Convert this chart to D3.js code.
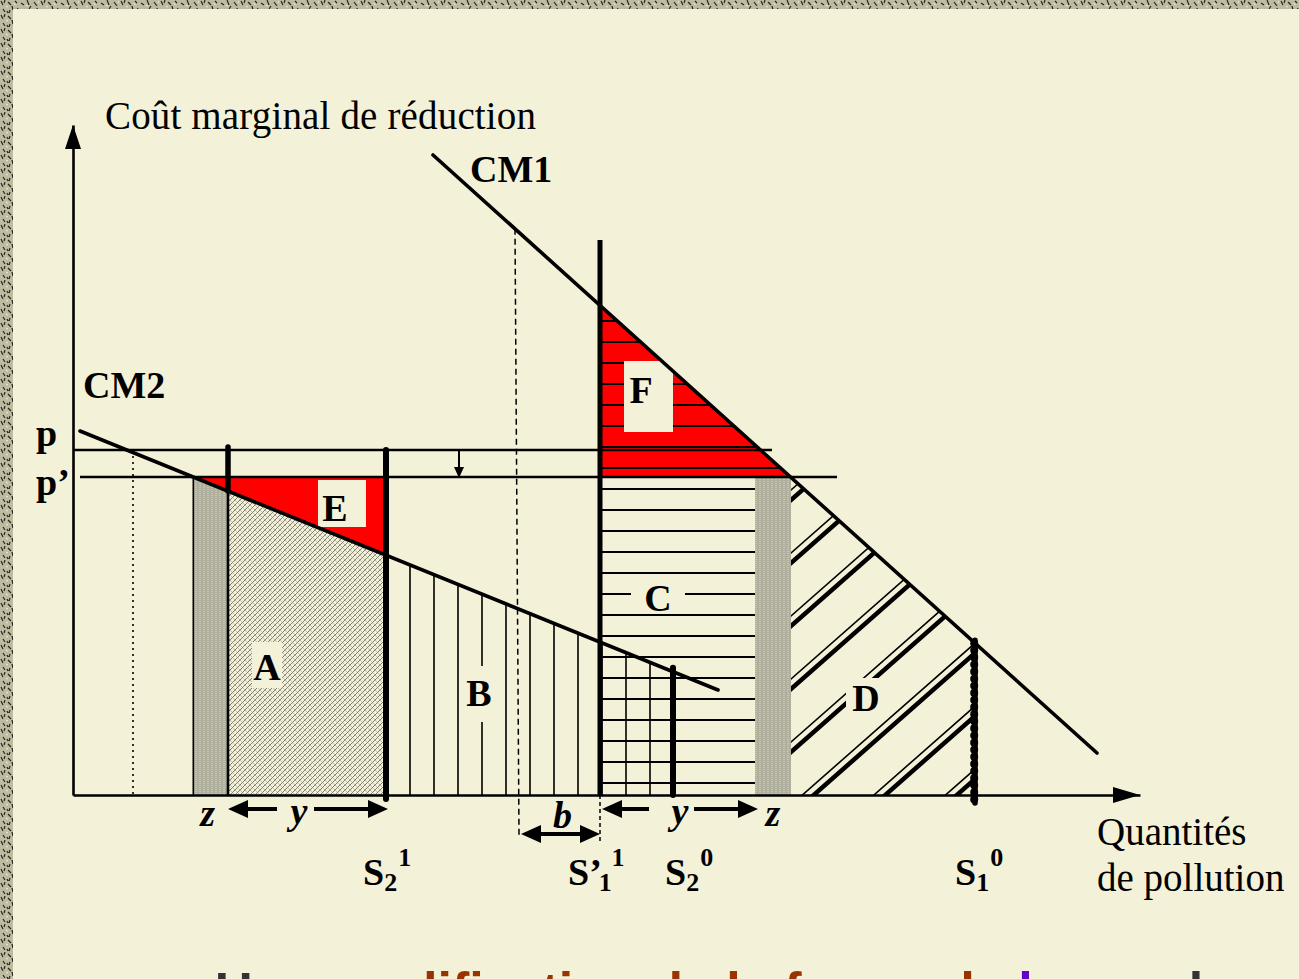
<!DOCTYPE html>
<html>
<head>
<meta charset="utf-8">
<script src="https://cdn.jsdelivr.net/npm/d3@7"></script>
<style>
  html, body { margin: 0; padding: 0; background: #f4f1d9; overflow: hidden; }
  svg { display: block; }
</style>
</head>
<body>
<svg id="chart" width="1299" height="979"></svg>
<script>
// ---------- values (pollution quantity / marginal abatement cost units) ----------
const quantityDomain = [0, 106.7];
const costDomain = [0, 67];

// marginal abatement cost curves, given by their two end points [quantity, cost]
const cm1Ends = [[36.0, 64.0], [102.4, 4.2]];
const cm2Ends = [[0.7, 36.4], [64.5, 10.5]];
const curveNames = ["CM1", "CM2"];

// permit price before and after the change
const priceNames = ["p", "p’"];
const priceValues = [34.5, 31.8];

// emission levels: S2¹, S’1¹, S2⁰, S1⁰
const standardNames = [["S", "2", "1"], ["S’", "1", "1"], ["S", "2", "0"], ["S", "1", "0"]];
const standardValues = [31.3, 52.7, 60.0, 90.2];

// end of the y span for firm 2, the z band of firm 1, and the shifted level b
const firm2SpanStart = 15.5;
const firm1Band = [68.2, 71.8];
const shiftedLevel = [44.2, 44.6];
const priceLineEnds = [[0, 69.9], [0.7, 76.4]];
const dottedLevel = 6.0;
const firm1Top = 55.5;

const regionNames = ["A", "B", "C", "D", "E", "F"];
const axisTitles = ["Coût marginal de réduction", "Quantités", "de pollution"];
const spanNames = ["z", "y", "b"];
const titleParts = [["Une ", "#333333"], ["modification de la forme de ", "#993300"], ["la ", "#6600cc"], ["courbe", "#333333"]];

// ---------- scales ----------
const x = d3.scaleLinear().domain(quantityDomain).range([73, 1140]);
const y = d3.scaleLinear().domain(costDomain).range([795, 125]);
const line = d3.line().x(d => x(d[0])).y(d => y(d[1]));

function through(e) {
  const k = (e[1][1] - e[0][1]) / (e[1][0] - e[0][0]);
  return { at: q => e[0][1] + k * (q - e[0][0]), qAt: c => e[0][0] + (c - e[0][1]) / k };
}
const CM1 = through(cm1Ends), CM2 = through(cm2Ends);
const [pHigh, pLow] = priceValues;
const [S21, Sp11, S20, S10] = standardValues;
const qE0 = CM2.qAt(pLow);
const qF1 = CM1.qAt(pLow);

const CREAM = "#f4f1d9", INK = "#000";
const SERIF = "'Liberation Serif', 'Times New Roman', serif";

const svg = d3.select("#chart");
const defs = svg.append("defs");

// grainy frame texture
const grain = defs.append("pattern").attr("id", "grain").attr("patternUnits", "userSpaceOnUse")
  .attr("width", 40).attr("height", 14);
grain.append("rect").attr("width", 40).attr("height", 14).attr("fill", "#bfbba1");
grain.append("path")
  .attr("d", "M1 1l2 4M5 0l-1 3M8 2l3 3M12 6l1 4M15 1l2 2M18 8l-2 4M21 3l3 2M24 9l1 4M27 0l2 5M31 6l-2 3M34 2l3 4M37 8l1 4M3 9l2 3M10 10l-1 3M19 12l2 2M29 10l2 3M7 11l1 2")
  .attr("stroke", "#24241d").attr("stroke-width", 1.2).attr("fill", "none");
grain.append("path").attr("d", "M6 6l2 1M14 3l1 2M26 5l2 1M33 11l1 2M39 1l-1 2")
  .attr("stroke", "#f0eedc").attr("stroke-width", 1);

// light lattice for area A
const lattice = defs.append("pattern").attr("id", "lattice").attr("patternUnits", "userSpaceOnUse")
  .attr("width", 5).attr("height", 5);
lattice.append("rect").attr("width", 5).attr("height", 5).attr("fill", CREAM);
lattice.append("path").attr("d", "M0 5L5 0M-1 1L1 -1M4 6L6 4").attr("stroke", "#55554b").attr("stroke-width", 0.75);
lattice.append("path").attr("d", "M0 0L5 5").attr("stroke", "#8c8b7e").attr("stroke-width", 0.5);

// dense weave for the z bands
const weave = defs.append("pattern").attr("id", "weave").attr("patternUnits", "userSpaceOnUse")
  .attr("width", 4).attr("height", 4);
weave.append("rect").attr("width", 4).attr("height", 4).attr("fill", "#e2dfca");
weave.append("path").attr("d", "M0 1.5L1 0.5L2 1.5L3 0.5L4 1.5M0 3.5L1 2.5L2 3.5L3 2.5L4 3.5")
  .attr("stroke", "#44443b").attr("stroke-width", 0.7).attr("fill", "none");

// ---------- background ----------
svg.append("rect").attr("width", 1299).attr("height", 979).attr("fill", CREAM);
svg.append("rect").attr("x", 0).attr("y", 0).attr("width", 1299).attr("height", 9).attr("fill", "url(#grain)");
svg.append("rect").attr("x", 0).attr("y", 0).attr("width", 13).attr("height", 979).attr("fill", "url(#grain)");

// ---------- filled areas ----------
const areas = svg.append("g");
// A : firm 2 extra abatement under CM2
areas.append("path").attr("fill", "url(#lattice)")
  .attr("d", line([[firm2SpanStart, CM2.at(firm2SpanStart)], [S21, CM2.at(S21)], [S21, 0], [firm2SpanStart, 0]]) + "Z");
// z band of firm 2
areas.append("path").attr("fill", "url(#weave)")
  .attr("d", line([[qE0, pLow], [firm2SpanStart, CM2.at(firm2SpanStart)], [firm2SpanStart, 0], [qE0, 0]]) + "Z");
// E : red triangle between p’ and CM2
areas.append("path").attr("fill", "#ff0000")
  .attr("d", line([[qE0, pLow], [S21, pLow], [S21, CM2.at(S21)]]) + "Z");
// F : red triangle between CM1 and p’
areas.append("path").attr("fill", "#ff0000")
  .attr("d", line([[Sp11, CM1.at(Sp11)], [Sp11, pLow], [qF1, pLow]]) + "Z");
// z band of firm 1
areas.append("path").attr("fill", "url(#weave)")
  .attr("d", line([[firm1Band[0], pLow], [firm1Band[1], pLow], [firm1Band[1], 0], [firm1Band[0], 0]]) + "Z");

// B : vertical hatching under CM2 between S2¹ and S2⁰
const hatch = svg.append("g").attr("stroke", INK).attr("fill", "none");
d3.range(S21 + 2.4, S20 - 0.5, 2.4).forEach(q => {
  hatch.append("line").attr("stroke-width", 1.6)
    .attr("x1", x(q)).attr("x2", x(q)).attr("y1", y(CM2.at(q))).attr("y2", y(0));
});

// C and F : horizontal hatching to the right of S’1¹
d3.range(1.2, CM1.at(Sp11), 2.1).forEach(c => {
  const qEnd = c > pLow ? CM1.qAt(c) : firm1Band[0];
  hatch.append("line").attr("stroke-width", 2)
    .attr("x1", x(Sp11)).attr("x2", x(qEnd)).attr("y1", y(c)).attr("y2", y(c));
});

// D : double diagonal hatching under CM1 between the z band and S1⁰
defs.append("clipPath").attr("id", "clipD").append("path")
  .attr("d", line([[firm1Band[1], CM1.at(firm1Band[1])], [S10, CM1.at(S10)], [S10, 0], [firm1Band[1], 0]]) + "Z");
const gD = svg.append("g").attr("clip-path", "url(#clipD)").attr("stroke", INK).attr("stroke-linecap", "round");
const dx0 = x(firm1Band[1]), slope = 0.88;
d3.range(500, 960, 63).forEach(b => {
  const a = [dx0 - 30, b + slope * 30], e = [dx0 + 240, b - slope * 240];
  gD.append("line").attr("stroke-width", 4.5).attr("x1", a[0]).attr("y1", a[1]).attr("x2", e[0]).attr("y2", e[1]);
  gD.append("line").attr("stroke-width", 1.6).attr("x1", a[0]).attr("y1", a[1] - 10).attr("x2", e[0]).attr("y2", e[1] - 10);
});

// ---------- region labels on cream boxes ----------
const labelSpots = {
  A: { q: 19.4, c: 11.5, box: [-15, -38, 30, 46] },
  B: { q: 40.6, c: 8.9, box: [-17, -40, 34, 56] },
  C: { q: 58.5, c: 18.4, box: [-27, -27, 54, 24] },
  D: { q: 79.3, c: 8.4, box: [-20, -33, 42, 40] },
  E: { q: 26.2, c: 27.4, box: [-17, -41, 48, 47] },
  F: { q: 56.8, c: 39.2, box: [-17, -42, 49, 71] }
};
const labels = svg.append("g");
regionNames.forEach(n => {
  const s = labelSpots[n], cx = x(s.q), cy = y(s.c);
  labels.append("rect").attr("fill", CREAM)
    .attr("x", cx + s.box[0]).attr("y", cy + s.box[1]).attr("width", s.box[2]).attr("height", s.box[3]);
  labels.append("text").attr("x", cx).attr("y", cy).attr("text-anchor", "middle")
    .attr("font-family", SERIF).attr("font-weight", "bold").attr("font-size", 38).text(n);
});

// ---------- lines ----------
const g = svg.append("g").attr("fill", "none").attr("stroke", INK);

// price lines p and p’
priceValues.forEach((c, i) => {
  g.append("path").attr("stroke-width", 2.6).attr("d", line([[priceLineEnds[i][0], c], [priceLineEnds[i][1], c]]));
});

// dotted guide under the CM2 / p crossing
g.append("path").attr("stroke-width", 1.6).attr("stroke-dasharray", "2,4")
  .attr("d", line([[dottedLevel, pHigh], [dottedLevel, 0]]));
// left edge of the z band of firm 2
g.append("path").attr("stroke-width", 1.6).attr("d", line([[qE0, pLow], [qE0, 0]]));

// shifted level (dashed, slightly slanted) from CM1 down below the axis
g.append("path").attr("stroke-width", 1.5).attr("stroke-dasharray", "6,4")
  .attr("d", line([[shiftedLevel[0], CM1.at(shiftedLevel[0])], [shiftedLevel[1], -4]]));
g.append("path").attr("stroke-width", 1.5).attr("stroke-dasharray", "4,3")
  .attr("d", line([[Sp11, 0], [Sp11, -4.6]]));

// cost curves
g.append("path").attr("stroke-width", 3.6).attr("stroke-linecap", "round").attr("d", line(cm1Ends));
g.append("path").attr("stroke-width", 3.6).attr("stroke-linecap", "round").attr("d", line(cm2Ends));

// start of the y span for firm 2
g.append("path").attr("stroke-width", 5.5).attr("stroke-linecap", "round")
  .attr("d", line([[firm2SpanStart, pHigh + 0.3], [firm2SpanStart, CM2.at(firm2SpanStart)]]));
g.append("path").attr("stroke-width", 2.6).attr("d", line([[firm2SpanStart, CM2.at(firm2SpanStart)], [firm2SpanStart, 0]]));

// emission levels
g.append("path").attr("stroke-width", 6).attr("stroke-linecap", "round").attr("d", line([[S21, pHigh], [S21, -0.4]]));
g.append("path").attr("stroke-width", 5).attr("d", line([[Sp11, firm1Top], [Sp11, 0]]));
g.append("path").attr("stroke-width", 6).attr("stroke-linecap", "round").attr("d", line([[S20, CM2.at(S20) + 0.4], [S20, 0]]));
g.append("path").attr("stroke-width", 5.5).attr("stroke-linecap", "round").attr("d", line([[S10, CM1.at(S10) + 0.3], [S10, -0.8]]));
g.append("path").attr("stroke-width", 8).attr("stroke-linecap", "round").attr("stroke-dasharray", "0.1,7")
  .attr("d", line([[S10 - 0.08, CM1.at(S10)], [S10 - 0.08, -0.5]]));

// price drop arrow from p to p’
const dropQ = 38.6;
g.append("path").attr("stroke-width", 2).attr("d", line([[dropQ, pHigh], [dropQ, pLow + 0.9]]));
svg.append("path").attr("fill", INK)
  .attr("d", `M${x(dropQ) - 5},${y(pLow) - 10}L${x(dropQ) + 5},${y(pLow) - 10}L${x(dropQ)},${y(pLow) + 1}Z`);

// ---------- axes ----------
const xAxis = d3.axisBottom(x).tickValues([]).tickSizeOuter(0);
const yAxis = d3.axisLeft(y).tickValues([]).tickSizeOuter(0);
const gx = svg.append("g").attr("transform", `translate(0,${y(0)})`).call(xAxis);
const gy = svg.append("g").attr("transform", `translate(${x(0)},0)`).call(yAxis);
[gx, gy].forEach(a => a.select(".domain").attr("stroke", INK).attr("stroke-width", 2.6));
svg.append("path").attr("fill", INK)
  .attr("d", `M${x(quantityDomain[1])},${y(0)}L${x(quantityDomain[1]) - 27},${y(0) - 8}L${x(quantityDomain[1]) - 27},${y(0) + 8}Z`);
svg.append("path").attr("fill", INK)
  .attr("d", `M${x(0)},${y(costDomain[1])}L${x(0) - 8},${y(costDomain[1]) + 24}L${x(0) + 8},${y(costDomain[1]) + 24}Z`);

// ---------- span arrows under the axis ----------
function arrow(x1, x2, yy, heads) {
  // heads: "l", "r" or "lr"; arrow tips sit at x1 (left) and x2 (right)
  const len = 20, half = 9;
  const a = heads.includes("l") ? x1 + len : x1;
  const b = heads.includes("r") ? x2 - len : x2;
  svg.append("line").attr("x1", a).attr("x2", b).attr("y1", yy).attr("y2", yy).attr("stroke", INK).attr("stroke-width", 4);
  if (heads.includes("l")) svg.append("path").attr("fill", INK).attr("d", `M${x1},${yy}L${x1 + len},${yy - half}L${x1 + len},${yy + half}Z`);
  if (heads.includes("r")) svg.append("path").attr("fill", INK).attr("d", `M${x2},${yy}L${x2 - len},${yy - half}L${x2 - len},${yy + half}Z`);
}
const spanY = y(0) + 14;
arrow(x(firm2SpanStart), x(firm2SpanStart) + 49, spanY, "l");
arrow(x(S21) - 72, x(S21) + 2, spanY, "r");
arrow(x(Sp11) + 2, x(Sp11) + 49, spanY, "l");
arrow(x(firm1Band[0]) - 61, x(firm1Band[0]) + 3, spanY, "r");
arrow(x(shiftedLevel[1]) + 2, x(Sp11), y(0) + 39, "lr");

const italic = (tx, ty, t) => svg.append("text").attr("x", tx).attr("y", ty).attr("text-anchor", "middle")
  .attr("font-family", SERIF).attr("font-style", "italic").attr("font-weight", "bold").attr("font-size", 38).text(t);
italic((x(qE0) + x(firm2SpanStart)) / 2 - 3, y(0) + 31, spanNames[0]);
italic(x(S21) - 87, y(0) + 29, spanNames[1]);
italic(x(Sp11) + 80, y(0) + 29, spanNames[1]);
italic((x(firm1Band[0]) + x(firm1Band[1])) / 2, y(0) + 31, spanNames[0]);
italic((x(shiftedLevel[1]) + x(Sp11)) / 2 + 3, y(0) + 33, spanNames[2]);

// ---------- emission level labels ----------
const standardOffsets = [-23, -32, -8, -20];
standardValues.forEach((q, i) => {
  const [base, sub, sup] = standardNames[i];
  const t = svg.append("text").attr("x", x(q) + standardOffsets[i]).attr("y", 885)
    .attr("font-family", SERIF).attr("font-weight", "bold").attr("font-size", 38);
  t.append("tspan").text(base);
  t.append("tspan").attr("font-size", 26).attr("dy", 6).attr("dx", base.length > 1 ? -3 : 0).text(sub);
  t.append("tspan").attr("font-size", 26).attr("dy", -25).attr("dx", 1).text(sup);
});

// ---------- curve and price labels ----------
const bold = (tx, ty, t) => svg.append("text").attr("x", tx).attr("y", ty)
  .attr("font-family", SERIF).attr("font-weight", "bold").attr("font-size", 38).text(t);
bold(x(cm1Ends[0][0]) + 37, y(cm1Ends[0][1]) + 27, curveNames[0]);
bold(x(cm2Ends[0][0]) + 3, y(cm2Ends[0][1]) - 33, curveNames[1]);
bold(36, y(pHigh) - 4, priceNames[0]);
bold(36, y(pLow) + 18, priceNames[1]);

// ---------- axis titles ----------
const plain = (tx, ty, t) => svg.append("text").attr("x", tx).attr("y", ty)
  .attr("font-family", SERIF).attr("font-size", 39).text(t);
plain(105, 129, axisTitles[0]).attr("textLength", 431).attr("lengthAdjust", "spacing");
plain(1097, 845, axisTitles[1]);
plain(1097, 891, axisTitles[2]);

// ---------- slide title (runs off the bottom edge) ----------
const title = svg.append("text").attr("x", 215).attr("y", 1009)
  .attr("font-family", "'Liberation Sans', Arial, sans-serif").attr("font-weight", "bold").attr("font-size", 52);
titleParts.forEach(([t, col]) => title.append("tspan").attr("fill", col).text(t));
</script>
</body>
</html>
